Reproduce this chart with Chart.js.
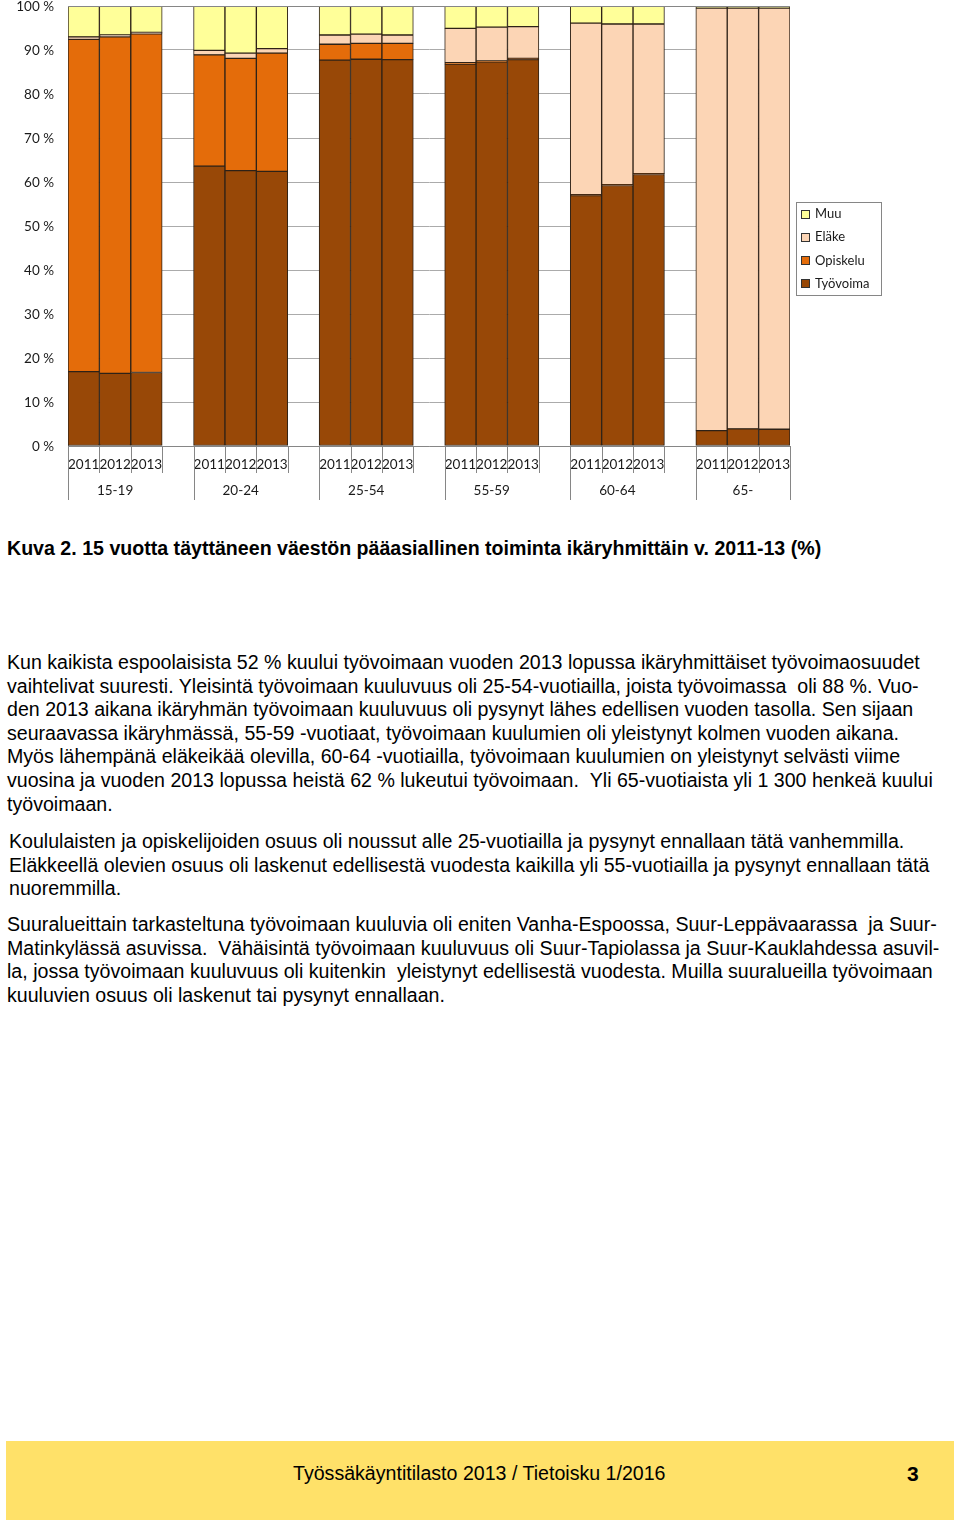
<!DOCTYPE html>
<html>
<head>
<meta charset="utf-8">
<script src="https://cdn.jsdelivr.net/npm/chart.js@4/dist/chart.umd.min.js"></script>
<style>
  html, body { margin: 0; padding: 0; background: #fff; }
  body { width: 960px; height: 1522px; position: relative; overflow: hidden; font-family: "Liberation Sans", Arial, sans-serif; color: #000; }
  #chartBox { position: absolute; left: 0; top: 0; width: 960px; height: 505px; }
  .cap { position: absolute; left: 7px; top: 537px; font-weight: bold; font-size: 19.6px; line-height: 22px; white-space: nowrap; }
  .p { position: absolute; font-size: 19.6px; line-height: 23.6px; white-space: nowrap; }
  #footer { position: absolute; left: 6px; top: 1441px; width: 948px; height: 79px; background: #FFE169; }
  #footer .t { position: absolute; left: 287px; top: 20px; font-size: 19.6px; line-height: 24px; white-space: nowrap; }
  #footer .n { position: absolute; left: 901px; top: 20px; font-size: 21px; font-weight: bold; line-height: 26px; }
</style>
</head>
<body>
<div id="chartBox"><canvas id="c" width="960" height="505"></canvas></div>

<div class="cap">Kuva 2. 15 vuotta täyttäneen väestön pääasiallinen toiminta ikäryhmittäin v. 2011-13 (%)</div>

<div class="p" style="left:7px; top:651px;">Kun kaikista espoolaisista 52 % kuului työvoimaan vuoden 2013 lopussa ikäryhmittäiset työvoimaosuudet<br>vaihtelivat suuresti. Yleisintä työvoimaan kuuluvuus oli 25-54-vuotiailla, joista työvoimassa &nbsp;oli 88 %. Vuo-<br>den 2013 aikana ikäryhmän työvoimaan kuuluvuus oli pysynyt lähes edellisen vuoden tasolla. Sen sijaan<br>seuraavassa ikäryhmässä, 55-59 -vuotiaat, työvoimaan kuulumien oli yleistynyt kolmen vuoden aikana.<br>Myös lähempänä eläkeikää olevilla, 60-64 -vuotiailla, työvoimaan kuulumien on yleistynyt selvästi viime<br>vuosina ja vuoden 2013 lopussa heistä 62 % lukeutui työvoimaan. &nbsp;Yli 65-vuotiaista yli 1 300 henkeä kuului<br>työvoimaan.</div>

<div class="p" style="left:9px; top:830px;">Koululaisten ja opiskelijoiden osuus oli noussut alle 25-vuotiailla ja pysynyt ennallaan tätä vanhemmilla.<br>Eläkkeellä olevien osuus oli laskenut edellisestä vuodesta kaikilla yli 55-vuotiailla ja pysynyt ennallaan tätä<br>nuoremmilla.</div>

<div class="p" style="left:7px; top:913px;">Suuralueittain tarkasteltuna työvoimaan kuuluvia oli eniten Vanha-Espoossa, Suur-Leppävaarassa &nbsp;ja Suur-<br>Matinkylässä asuvissa. &nbsp;Vähäisintä työvoimaan kuuluvuus oli Suur-Tapiolassa ja Suur-Kauklahdessa asuvil-<br>la, jossa työvoimaan kuuluvuus oli kuitenkin &nbsp;yleistynyt edellisestä vuodesta. Muilla suuralueilla työvoimaan<br>kuuluvien osuus oli laskenut tai pysynyt ennallaan.</div>

<div id="footer"><span class="t">Työssäkäyntitilasto 2013 / Tietoisku 1/2016</span><span class="n">3</span></div>

<script>
// ---- Data ----
const categories = ['2011','2012','2013','', '2011','2012','2013','', '2011','2012','2013','', '2011','2012','2013','', '2011','2012','2013','', '2011','2012','2013'];
const groups = ['15-19','20-24','25-54','55-59','60-64','65-'];
const yTicks = [0,10,20,30,40,50,60,70,80,90,100];
const tyovoima = [16.9,16.5,16.7,null, 63.6,62.6,62.4,null, 87.7,87.9,87.8,null, 86.8,87.3,87.8,null, 56.9,59.2,61.7,null, 3.5,3.9,3.8];
const opiskelu = [75.5,76.5,77.0,null, 25.3,25.5,26.9,null, 3.6,3.6,3.7,null, 0.3,0.2,0.3,null, 0.2,0.2,0.2,null, 0,0,0];
const elake    = [0.6,0.4,0.3,null, 1.0,1.2,1.0,null, 2.1,2.1,1.9,null, 7.8,7.7,7.2,null, 39.0,36.5,34.0,null, 96.0,95.6,95.7];
const muu      = [7.0,6.6,6.0,null, 10.1,10.7,9.7,null, 6.6,6.4,6.6,null, 5.1,4.8,4.7,null, 3.9,4.1,4.1,null, 0.5,0.5,0.5];

const FONT = 'Lato, "Open Sans", sans-serif';
const AXIS_GREY = '#868686';
const BORDER = '#2e2217';

function ds(label, data, color) {
  return { label, data, backgroundColor: color, borderColor: BORDER, borderWidth: 1, borderSkipped: false,
           categoryPercentage: 1.0, barPercentage: 1.0 };
}

const decorations = {
  id: 'decorations',
  afterDraw(chart) {
    const ctx = chart.ctx;
    const x = chart.scales.x;
    const area = chart.chartArea;
    const slot = x.getPixelForValue(1) - x.getPixelForValue(0);
    ctx.save();
    ctx.strokeStyle = AXIS_GREY;
    ctx.lineWidth = 1;
    ctx.beginPath();
    ctx.moveTo(area.left, Math.round(area.top) + 0.5);
    ctx.lineTo(area.right, Math.round(area.top) + 0.5);
    ctx.stroke();
    const yAxis = area.bottom;
    groups.forEach((g, gi) => {
      const start = gi * 4;
      const x0 = x.getPixelForValue(start) - slot / 2;
      ctx.beginPath();
      ctx.moveTo(Math.round(x0) + 0.5, yAxis);
      ctx.lineTo(Math.round(x0) + 0.5, 500);
      ctx.stroke();
      for (let k = 1; k <= 3; k++) {
        const xb = x.getPixelForValue(start + k) - slot / 2;
        const isEnd = (gi === groups.length - 1 && k === 3);
        ctx.beginPath();
        ctx.moveTo(Math.round(xb) + 0.5, yAxis);
        ctx.lineTo(Math.round(xb) + 0.5, isEnd ? 500 : 473);
        ctx.stroke();
      }
      ctx.fillStyle = '#1a1a1a';
      ctx.font = '13.5px ' + FONT;
      ctx.textAlign = 'center';
      ctx.textBaseline = 'middle';
      ctx.fillText(g, x.getPixelForValue(start + 1), 491);
    });
    // legend
    const lx = 796, ly = 202, lw = 85, lh = 93;
    ctx.fillStyle = '#fff';
    ctx.fillRect(lx, ly, lw, lh);
    ctx.strokeStyle = AXIS_GREY;
    ctx.strokeRect(lx + 0.5, ly + 0.5, lw, lh);
    const items = chart.data.datasets.slice().reverse();
    items.forEach((d, i) => {
      const cy = 214 + i * 23.3;
      ctx.fillStyle = d.backgroundColor;
      ctx.fillRect(801, Math.round(cy - 4.5), 9, 9);
      ctx.strokeStyle = '#333';
      ctx.strokeRect(801.5, Math.round(cy - 4.5) + 0.5, 8, 8);
      ctx.fillStyle = '#1a1a1a';
      ctx.font = '13px ' + FONT;
      ctx.textAlign = 'left';
      ctx.textBaseline = 'middle';
      ctx.fillText(d.label, 815, cy);
    });
    ctx.restore();
  }
};

new Chart(document.getElementById('c'), {
  type: 'bar',
  data: {
    labels: categories,
    datasets: [
      ds('Työvoima', tyovoima, '#984807'),
      ds('Opiskelu', opiskelu, '#E46C0A'),
      ds('Eläke', elake, '#FCD5B5'),
      ds('Muu', muu, '#FFFF99')
    ]
  },
  options: {
    responsive: false,
    animation: false,
    devicePixelRatio: 1,
    layout: { padding: { top: 6, right: 170, left: 0, bottom: 0 } },
    plugins: { legend: { display: false }, tooltip: { enabled: false } },
    scales: {
      x: {
        stacked: true,
        grid: { display: false },
        border: { display: true, color: AXIS_GREY },
        ticks: { autoSkip: false, maxRotation: 0, minRotation: 0, padding: 3, color: '#1a1a1a', font: { family: FONT, size: 13.5 } },
        afterFit(s) { s.height = 59; s.paddingLeft = 0; s.paddingRight = 0; }
      },
      y: {
        stacked: true,
        min: 0, max: 100,
        afterBuildTicks(s) { s.ticks = yTicks.map(v => ({ value: v })); },
        ticks: { padding: 14, labelOffset: 1, color: '#1a1a1a', font: { family: FONT, size: 13.5 }, callback: v => v + ' %' },
        grid: { color: '#ababab', drawTicks: false },
        border: { display: true, color: AXIS_GREY },
        afterFit(s) { s.width = 68; s.paddingTop = 0; s.paddingBottom = 0; }
      }
    }
  },
  plugins: [decorations]
});
</script>
</body>
</html>
